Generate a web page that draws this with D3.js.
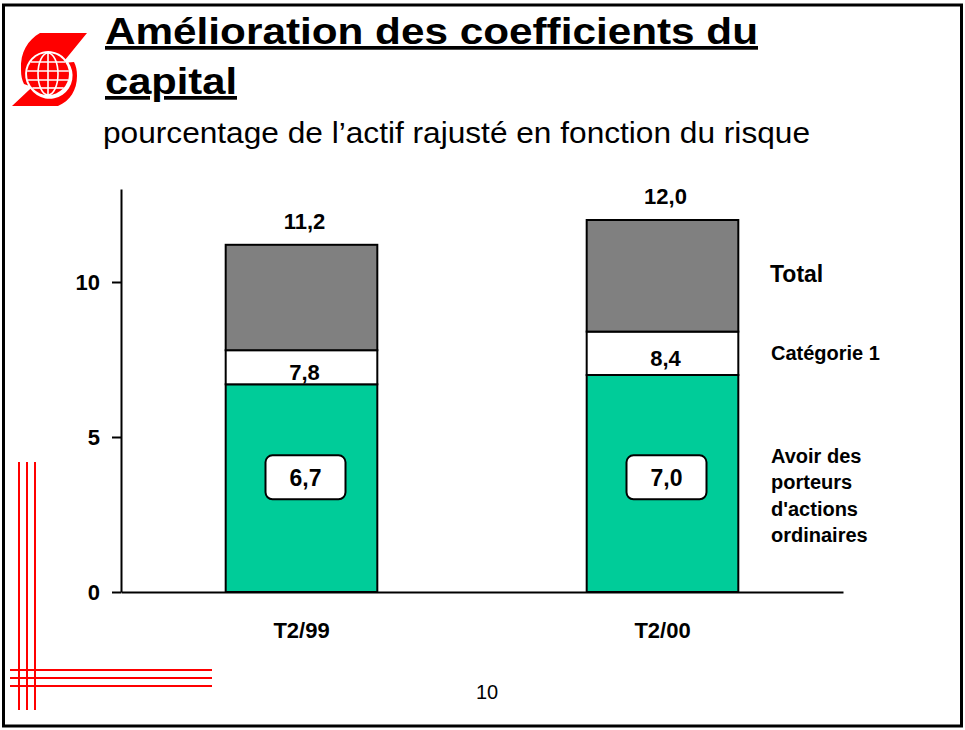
<!DOCTYPE html>
<html><head><meta charset="utf-8">
<script src="https://cdn.jsdelivr.net/npm/d3@7"></script>
<style>
body{margin:0;background:#fff}
svg{display:block}
text{font-family:"Liberation Sans",Arial,sans-serif;fill:#000}
</style>
</head><body>
<script>
// ---- data ----
const categories = ["T2/99", "T2/00"];
const commonEquity = [6.7, 7.0];   // Avoir des porteurs d'actions ordinaires
const tier1 = [7.8, 8.4];          // Catégorie 1
const total = [11.2, 12.0];        // Total
const yTicks = [0, 5, 10];
const yMax = 13;
const boxLabelValue = 3.7;
const seriesNames = ["Avoir des porteurs d'actions ordinaires", "Catégorie 1", "Total"];
const legendLines = ["Avoir des", "porteurs", "d'actions", "ordinaires"];
const titleLines = ["Amélioration des coefficients du", "capital"];
const subtitle = "pourcentage de l’actif rajusté en fonction du risque";
const pageNumber = "10";
const colors = { equity: "#00cc99", tier1: "#ffffff", total: "#808080", red: "#ff0000" };

const fmt = v => d3.format(".1f")(v).replace(".", ",");

const W = 965, H = 730;
const svg = d3.select("body").append("svg").attr("width", W).attr("height", H);

// frame
svg.append("rect").attr("x", 3.5).attr("y", 5).attr("width", 958).attr("height", 721)
  .attr("fill", "#fff").attr("stroke", "#000").attr("stroke-width", 3);

// ---- logo ----
const logo = svg.append("g");
logo.append("path").attr("fill", colors.red)
  .attr("d", "M87,33 L40,33 C28,40 20,52 21,70 C21,76 22,80 24,84 L28.1,85.5 A23,23 0 0 1 65.6,59.2 Z");
logo.append("path").attr("fill", colors.red)
  .attr("d", "M12,106 L58,106 C70,101 77,90 77,76 C77,70 76,66 74,62 L68.5,62.5 A23,23 0 0 1 30.4,88.8 Z");
const G = [48, 74], gr = 21;
logo.append("circle").attr("cx", G[0]).attr("cy", G[1]).attr("r", gr).attr("fill", colors.red);
const gl = logo.append("g").attr("stroke", "#fff").attr("stroke-width", 1.6).attr("fill", "none");
gl.append("line").attr("x1", G[0]).attr("x2", G[0]).attr("y1", G[1] - gr).attr("y2", G[1] + gr);
gl.append("ellipse").attr("cx", G[0]).attr("cy", G[1]).attr("rx", 10).attr("ry", gr);
[-12, -3, 6, 14].forEach(dy => {
  const hw = Math.sqrt(gr * gr - dy * dy);
  gl.append("line").attr("x1", G[0] - hw).attr("x2", G[0] + hw).attr("y1", G[1] + dy).attr("y2", G[1] + dy);
});

// ---- title ----
svg.append("text").attr("x", 105).attr("y", 44).attr("font-size", 37).attr("font-weight", "bold")
  .attr("text-decoration", "underline").attr("textLength", 653).attr("lengthAdjust", "spacingAndGlyphs")
  .text(titleLines[0]);
svg.append("text").attr("x", 105).attr("y", 94).attr("font-size", 37).attr("font-weight", "bold")
  .attr("text-decoration", "underline").attr("textLength", 132).attr("lengthAdjust", "spacingAndGlyphs")
  .text(titleLines[1]);
svg.append("text").attr("x", 103).attr("y", 143).attr("font-size", 30)
  .attr("textLength", 707).attr("lengthAdjust", "spacingAndGlyphs").text(subtitle);

// ---- decorative red lines ----
const deco = svg.append("g").attr("stroke", colors.red).attr("stroke-width", 2);
[19, 27, 35].forEach(xx => deco.append("line").attr("x1", xx).attr("x2", xx).attr("y1", 462).attr("y2", 710));
[670, 678, 686].forEach(yy => deco.append("line").attr("x1", 10).attr("x2", 212).attr("y1", yy).attr("y2", yy));

// ---- scales ----
const x = d3.scaleBand().domain(categories).range([121, 843]).paddingInner(0.58).paddingOuter(0.29);
const y = d3.scaleLinear().domain([0, yMax]).range([592, 189]);

// stacked segments
const segs = [];
categories.forEach((c, i) => {
  segs.push({ c, y0: 0, y1: commonEquity[i], fill: colors.equity });
  segs.push({ c, y0: commonEquity[i], y1: tier1[i], fill: colors.tier1 });
  segs.push({ c, y0: tier1[i], y1: total[i], fill: colors.total });
});
svg.append("g").selectAll("rect").data(segs).join("rect")
  .attr("x", d => x(d.c)).attr("width", x.bandwidth())
  .attr("y", d => y(d.y1)).attr("height", d => y(d.y0) - y(d.y1))
  .attr("fill", d => d.fill).attr("stroke", "#000").attr("stroke-width", 2);

// axes
const yAxis = svg.append("g").attr("transform", "translate(121,0)")
  .call(d3.axisLeft(y).tickValues(yTicks).tickSize(9).tickSizeOuter(0).tickPadding(12).tickFormat(d3.format("d")));
yAxis.selectAll("path,line").attr("stroke", "#000").attr("stroke-width", 2);
yAxis.selectAll("text").attr("font-size", 22).attr("font-weight", "bold")
  .attr("font-family", "Liberation Sans, Arial, sans-serif");

const xAxis = svg.append("g").attr("transform", "translate(0,592)")
  .call(d3.axisBottom(x).tickSize(0).tickSizeOuter(0).tickPadding(30));
xAxis.selectAll("path").attr("stroke", "#000").attr("stroke-width", 2);
xAxis.selectAll("text").attr("font-size", 22).attr("font-weight", "bold")
  .attr("font-family", "Liberation Sans, Arial, sans-serif");

// total labels
svg.append("g").selectAll("text").data(categories).join("text")
  .attr("x", c => x(c) + x.bandwidth() / 2 + 3)
  .attr("y", (c, i) => y(total[i]) - 16)
  .attr("text-anchor", "middle").attr("font-size", 22).attr("font-weight", "bold")
  .text((c, i) => fmt(total[i]));

// tier 1 labels
svg.append("g").selectAll("text").data(categories).join("text")
  .attr("x", c => x(c) + x.bandwidth() / 2 + 3)
  .attr("y", (c, i) => (y(tier1[i]) + y(commonEquity[i])) / 2 + 13)
  .attr("text-anchor", "middle").attr("font-size", 22).attr("font-weight", "bold")
  .text((c, i) => fmt(tier1[i]));

// equity boxes
const boxes = svg.append("g").selectAll("g").data(categories).join("g")
  .attr("transform", c => `translate(${x(c) + x.bandwidth() / 2 + 4},${y(boxLabelValue)})`);
boxes.append("rect").attr("x", -40).attr("y", -22).attr("width", 80).attr("height", 44)
  .attr("rx", 7).attr("fill", "#fff").attr("stroke", "#000").attr("stroke-width", 2);
boxes.append("text").attr("y", 9).attr("text-anchor", "middle")
  .attr("font-size", 23).attr("font-weight", "bold")
  .text((c, i) => fmt(commonEquity[i]));

// legend labels (right side, aligned with last bar segments)
const li = categories.length - 1;
const lx = 770;
svg.append("text").attr("x", lx).attr("y", y((tier1[li] + total[li]) / 2) + 6)
  .attr("font-size", 23).attr("font-weight", "bold").text(seriesNames[2]);
svg.append("text").attr("x", lx + 1).attr("y", y((commonEquity[li] + tier1[li]) / 2) + 7)
  .attr("font-size", 20).attr("font-weight", "bold").text(seriesNames[1]);
const eqText = svg.append("text").attr("x", lx + 1).attr("y", y(commonEquity[li] / 2) - 21)
  .attr("font-size", 20).attr("font-weight", "bold");
legendLines.forEach((l, k) => eqText.append("tspan").attr("x", lx + 1).attr("dy", k === 0 ? 0 : 26.6).text(l));

// page number
svg.append("text").attr("x", 487).attr("y", 699).attr("text-anchor", "middle").attr("font-size", 20).text(pageNumber);
</script>
</body></html>
